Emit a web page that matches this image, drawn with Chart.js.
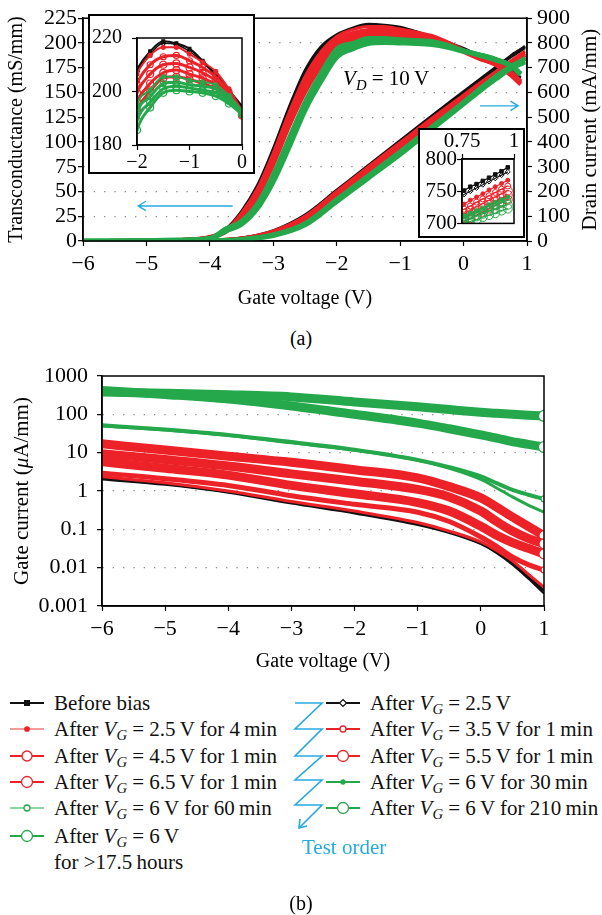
<!DOCTYPE html>
<html lang="en">
<head>
<meta charset="UTF-8">
<title>Transconductance, drain and gate current after gate bias</title>
<script src="https://cdn.jsdelivr.net/npm/chart.js"></script>
<style>
    body { margin: 0; background: #fff; font-family: 'Liberation Serif', 'Times New Roman', serif; }
    #page { position: relative; width: 602px; height: 915px; overflow: hidden; background: #fff; }
    #page canvas { position: absolute; }
    .inset { position: absolute; border: 2px solid #000; background: #fff; }
    .inset canvas { left: 0; top: 0; }
    .cap { position: absolute; left: 0; width: 602px; text-align: center; font-size: 20px; line-height: 24px; }
    .leg { position: absolute; display: flex; align-items: center; height: 26px; font-size: 21px; white-space: nowrap; color: #111; }
    .leg svg { flex: none; }
    .leg span { margin-left: 10px; }
    .leg sub { font-size: 70%; vertical-align: -0.25em; font-style: italic; line-height: 0; }
    #order { position: absolute; left: 0; top: 0; }
    #orderText { position: absolute; left: 302px; top: 835px; font-size: 21px; color: #27aae1; }
</style>
</head>
<body>
<div id="page">
    <canvas id="chartA" width="602" height="320" style="left:0;top:0"></canvas>
    <div class="inset" style="left:88px;top:14px;width:163px;height:156px"><canvas id="inset1" width="163" height="156"></canvas></div>
    <div class="inset" style="left:418px;top:128px;width:103px;height:106px"><canvas id="inset2" width="103" height="106"></canvas></div>
    <div class="cap" style="top:326px">(a)</div>
    <canvas id="chartB" width="602" height="330" style="left:0;top:350px"></canvas>
    <div id="legend"></div>
    <svg id="order" width="602" height="915"></svg>
    <div id="orderText">Test order</div>
    <div class="cap" style="top:891px">(b)</div>
</div>

<script>
    const FONT = "'Liberation Serif', 'Times New Roman', serif";
    const BLACK = '#111', RED = '#ec2228', GREEN = '#25a84b', BLUE = '#27aae1';

    // series, in test order
    const seriesNames = [
        'Before bias',
        'After VG = 2.5 V',
        'After VG = 2.5 V for 4 min',
        'After VG = 3.5 V for 1 min',
        'After VG = 4.5 V for 1 min',
        'After VG = 5.5 V for 1 min',
        'After VG = 6.5 V for 1 min',
        'After VG = 6 V for 30 min',
        'After VG = 6 V for 60 min',
        'After VG = 6 V for 210 min',
        'After VG = 6 V for >17.5 hours'
    ];
    const VG = 'After <i>V</i><sub>G</sub> = ';
    const legendHtml = [
        'Before bias',
        VG + '2.5&#8201;V',
        VG + '2.5&#8201;V for 4&#8201;min',
        VG + '3.5&#8201;V for 1&#8201;min',
        VG + '4.5&#8201;V for 1&#8201;min',
        VG + '5.5&#8201;V for 1&#8201;min',
        VG + '6.5&#8201;V for 1&#8201;min',
        VG + '6&#8201;V for 30&#8201;min',
        VG + '6&#8201;V for 60&#8201;min',
        VG + '6&#8201;V for 210&#8201;min',
        VG + '6&#8201;V<br>for &gt;17.5&#8201;hours'
    ];

    // (a) transconductance, mS/mm
    const vgA = [-6, -5, -4.5, -4, -3.75, -3.5, -3.25, -3, -2.75, -2.5, -2.25, -2, -1.75, -1.5, -1.25, -1, -0.75, -0.5, -0.25, 0, 0.25, 0.5, 0.75, 0.9];
    const gmValues = [
        [0, 0.3, 1, 4, 12, 30, 56, 93, 135, 172, 196, 208.3, 215, 218.8, 218, 216, 211.5, 206.5, 200.5, 194.5, 187, 181, 172, 165],
        [0, 0.3, 1, 4, 11.5, 29, 55, 92, 133, 170, 194.5, 207.5, 214, 218, 217.5, 215, 211, 206, 200, 194, 186.5, 180.5, 171.5, 164.5],
        [0, 0.3, 1, 4, 11, 28, 53, 89, 130, 166, 191, 206.5, 213.5, 216.5, 216.5, 214, 211, 207.5, 201, 193, 186, 180, 171, 162],
        [0, 0.3, 1, 4, 10.5, 27, 51, 86, 127, 162, 187, 203, 210, 213, 213.5, 211.5, 209, 205.5, 200, 192.5, 185.5, 179.5, 170, 161],
        [0, 0.3, 1, 3.5, 10, 25, 48, 83, 123, 158, 183, 199.5, 206.5, 210, 210.5, 209, 207, 204, 199, 192, 185, 179, 169, 160],
        [0, 0.3, 1, 3.5, 9.5, 24, 46, 80, 120, 154, 180, 196, 203, 207, 208, 206.5, 205, 202.5, 198, 191.5, 184.5, 178.5, 168, 159],
        [0, 0.3, 1, 3.5, 9, 22, 44, 77, 116, 150, 176, 193, 200, 205, 205.5, 204.5, 203, 201, 197, 191, 184, 178, 167, 158],
        [0, 0.3, 1, 3, 13, 21, 39, 69, 106, 142, 171, 195, 200.5, 205.5, 205.5, 204.2, 203.5, 202.5, 198.5, 193, 189, 184.5, 178, 170],
        [0, 0.3, 1, 3, 12.5, 20, 37, 66, 102, 138, 167, 192, 198, 203, 203.5, 202.5, 202, 201, 197.5, 192.5, 188.5, 184, 177.5, 169.5],
        [0, 0.3, 1, 2.5, 11, 18.5, 35, 63, 98, 135, 164, 189, 196, 201, 202, 201.3, 200.5, 199.5, 196.5, 192, 188, 183.5, 177, 169],
        [0, 0.3, 1, 2.5, 10, 17, 33, 60, 95, 132, 161, 185.6, 194, 199.5, 200.5, 200, 199.5, 198.3, 195.5, 191.5, 187.5, 183, 176.5, 168]
    ];

    // (a) drain current, mA/mm
    const vgI = [-6, -5, -4.5, -4, -3.5, -3, -2.5, -2, -1.5, -1, -0.5, 0, 0.25, 0.5, 0.76, 0.79, 0.82, 0.85, 0.88, 0.91, 0.94, 0.97];
    const idValues = [
        [0, 0, 0.5, 2, 12, 42, 105, 205, 305, 405, 505, 603, 652, 700, 751, 757, 761, 766, 771, 776, 781, 787],
        [0, 0, 0.5, 2, 11, 40, 102, 202, 302, 401, 500, 598, 647, 695, 745, 750, 755, 760, 765, 770, 775, 780],
        [0, 0, 0.5, 2, 11, 40, 100, 200, 300, 398, 496, 590, 637, 683, 730, 736, 741, 746, 752, 757, 762, 767],
        [0, 0, 0.5, 2, 10, 38, 97, 196, 295, 392, 489, 583, 629, 675, 722, 727, 733, 738, 743, 748, 753, 758],
        [0, 0, 0.5, 1.5, 10, 36, 94, 192, 290, 387, 483, 576, 622, 668, 715, 720, 726, 731, 736, 741, 746, 751],
        [0, 0, 0.5, 1.5, 9, 35, 91, 188, 285, 382, 477, 570, 616, 662, 709, 714, 719, 724, 729, 734, 739, 744],
        [0, 0, 0.5, 1.5, 9, 33, 88, 184, 280, 377, 472, 564, 610, 656, 703, 708, 713, 718, 723, 728, 732, 737],
        [0, 0, 0.3, 1.5, 7, 28, 75, 172, 268, 365, 465, 565, 618, 668, 712, 716, 720, 724, 729, 733, 737, 741],
        [0, 0, 0.3, 1.5, 7, 26, 71, 167, 262, 359, 459, 560, 612, 662, 708, 712, 716, 720, 724, 728, 732, 736],
        [0, 0, 0.3, 1, 6, 24, 68, 163, 258, 354, 455, 557, 608, 657, 704, 707, 711, 715, 719, 722, 726, 729],
        [0, 0, 0.3, 1, 6, 22, 65, 160, 255, 350, 452, 554, 605, 653, 700, 703, 706, 710, 713, 716, 720, 723]
    ];

    // (b) gate current, uA/mm
    const vgB = [-6, -5, -4, -3, -2, -1, -0.5, 0, 0.25, 0.5, 0.75, 1];
    const igValues = [
        [2.2, 1.55, 0.95, 0.5, 0.28, 0.14, 0.085, 0.043, 0.026, 0.013, 0.0058, 0.0025],
        [2.0, 1.45, 0.9, 0.47, 0.26, 0.13, 0.08, 0.041, 0.024, 0.012, 0.0052, 0.0021],
        [2.35, 1.65, 1.0, 0.53, 0.3, 0.15, 0.09, 0.047, 0.028, 0.015, 0.0068, 0.0031],
        [2.9, 2.1, 1.4, 0.75, 0.45, 0.28, 0.16, 0.063, 0.036, 0.019, 0.012, 0.0087],
        [5.8, 3.9, 2.6, 1.4, 0.85, 0.5, 0.3, 0.12, 0.07, 0.045, 0.032, 0.023],
        [9.4, 6.6, 4.5, 2.8, 1.8, 1.1, 0.7, 0.3, 0.16, 0.09, 0.058, 0.042],
        [17, 11.7, 8.1, 5.6, 3.6, 2.2, 1.3, 0.66, 0.38, 0.21, 0.12, 0.068],
        [50, 39, 28, 18, 11.5, 6.2, 3.9, 2.0, 1.2, 0.7, 0.43, 0.28],
        [52, 40, 29, 19, 12, 6.5, 4.2, 2.4, 1.6, 1.07, 0.8, 0.62],
        [420, 330, 250, 165, 100, 59, 42, 29, 24, 19.5, 16.5, 14],
        [380, 355, 325, 285, 210, 157, 133, 113, 106, 100, 95, 91]
    ];

    const gateTicks = [0.001, 0.01, 0.1, 1, 10, 100, 1000];
    const gateTickLabels = ['0.001', '0.01', '0.1', '1', '10', '100', '1000'];

    // styles per series
    const seriesColor = [BLACK, BLACK, RED, RED, RED, RED, RED, GREEN, GREEN, GREEN, GREEN];
    const legendLineColor = [BLACK, BLACK, '#f59a9a', RED, RED, RED, RED, GREEN, '#8fd4a5', GREEN, GREEN];
    const markerShape = ['rect', 'rectRot', 'circle', 'circle', 'circle', 'circle', 'circle', 'circle', 'circle', 'circle', 'circle'];
    const markerFilled = [true, false, true, false, false, false, false, true, false, false, false];
    const legendMarkerR = [3, 3.5, 2.2, 3, 5, 5.5, 5.5, 2, 3, 5.5, 5.5];
    const widthA = [3, 2.5, 3, 4, 4, 4, 4, 3, 4, 4, 5];
    const widthB = [2.5, 2, 3, 5, 9, 9, 9, 3, 4, 9, 9];
    const endRadiusB = [0, 0, 0, 3, 5, 5, 5, 0, 3, 5.5, 5.5];
    const inset1R = [2, 2.5, 2, 3, 3.5, 3.5, 3.5, 2, 3, 3.5, 3.5];
    const inset1W = [2, 1.5, 2, 3, 3, 3, 3, 2, 3, 3, 3];
    const inset2R = [2.5, 2.5, 2, 3, 4.5, 4.5, 4.5, 2, 3, 4.5, 4.5];
    const drawOrder = [3, 3, 2, 2, 2, 2, 2, 1, 1, 1, 1];

    // annotations in data units
    const vdLabelAt = [-1.9, 163];
    const gmArrow = [-3.64, -5.13, 35.4];
    const idArrow = [0.26, 0.86, 546];

    const fmtV = v => (v < 0 ? '\u2212' + (-v) : String(v));
    const tickFont = size => ({ family: FONT, size: size });
    const pts = (xs, ys) => xs.map((x, k) => ({ x: x, y: ys[k] }));

    function drawRich(ctx, parts, x, y, rot, size, align) {
        ctx.save();
        ctx.translate(x, y);
        ctx.rotate(rot);
        const fontFor = p => (p.i ? 'italic ' : '') + (p.sub ? size * 0.7 : size) + 'px ' + FONT;
        let w = 0;
        parts.forEach(p => { ctx.font = fontFor(p); w += ctx.measureText(p.t).width; });
        let cx = align === 'left' ? 0 : -w / 2;
        ctx.textBaseline = 'middle';
        ctx.fillStyle = '#000';
        parts.forEach(p => {
            ctx.font = fontFor(p);
            ctx.fillText(p.t, cx, p.sub ? size * 0.3 : 0);
            cx += ctx.measureText(p.t).width;
        });
        ctx.restore();
    }

    function arrow(ctx, x1, y1, x2, y2) {
        const a = Math.atan2(y2 - y1, x2 - x1), h = 9;
        ctx.save();
        ctx.strokeStyle = BLUE;
        ctx.lineWidth = 1.4;
        ctx.beginPath();
        ctx.moveTo(x1, y1); ctx.lineTo(x2, y2);
        ctx.moveTo(x2 - h * Math.cos(a - 0.55), y2 - h * Math.sin(a - 0.55));
        ctx.lineTo(x2, y2);
        ctx.lineTo(x2 - h * Math.cos(a + 0.55), y2 - h * Math.sin(a + 0.55));
        ctx.stroke();
        ctx.restore();
    }

    const framePlugin = {
        id: 'frame',
        afterDraw(chart) {
            const { ctx, chartArea: a } = chart;
            ctx.save();
            ctx.strokeStyle = '#000';
            ctx.lineWidth = 1.5;
            ctx.strokeRect(a.left, a.top, a.right - a.left, a.bottom - a.top);
            ctx.restore();
        }
    };

    const notesA = {
        id: 'notesA',
        afterDraw(chart) {
            const { ctx, scales, chartArea } = chart;
            drawRich(ctx, [{ t: 'V', i: true }, { t: 'D', i: true, sub: true }, { t: ' = 10\u2009V' }],
                scales.x.getPixelForValue(vdLabelAt[0]), scales.yL.getPixelForValue(vdLabelAt[1]), 0, 21, 'left');
            arrow(ctx, scales.x.getPixelForValue(gmArrow[0]), scales.yL.getPixelForValue(gmArrow[2]),
                scales.x.getPixelForValue(gmArrow[1]), scales.yL.getPixelForValue(gmArrow[2]));
            arrow(ctx, scales.x.getPixelForValue(idArrow[0]), scales.yR.getPixelForValue(idArrow[2]),
                scales.x.getPixelForValue(idArrow[1]), scales.yR.getPixelForValue(idArrow[2]));
            drawRich(ctx, [{ t: 'Drain current (mA/mm)' }], 590, (chartArea.top + chartArea.bottom) / 2, -Math.PI / 2, 21);
        }
    };

    const notesB = {
        id: 'notesB',
        afterDraw(chart) {
            const a = chart.chartArea;
            drawRich(chart.ctx, [{ t: 'Gate current (' }, { t: 'μ', i: true }, { t: 'A/mm)' }], 22, (a.top + a.bottom) / 2, -Math.PI / 2, 21);
        }
    };

    const dotted = lims => ({
        color: c => (c.tick && lims.includes(c.tick.value)) ? 'rgba(0,0,0,0)' : '#8c8c8c',
        lineWidth: 1.3, tickLength: 5, tickColor: '#000', tickWidth: 1.2
    });
    const plainGrid = { drawOnChartArea: false, tickLength: 5, tickColor: '#000', tickWidth: 1.2 };
    const solidBorder = { color: '#000', width: 1.5 };
    const baseOpts = {
        responsive: false, animation: false,
        plugins: { legend: { display: false }, tooltip: { enabled: false } },
        elements: { line: { cubicInterpolationMode: 'monotone' } }
    };

    // ---- (a) main chart
    const dsA = [];
    seriesNames.forEach((name, i) => {
        dsA.push({ label: name, data: pts(vgA, gmValues[i]), yAxisID: 'yL', borderColor: seriesColor[i],
            borderWidth: widthA[i], pointRadius: 0, order: drawOrder[i] });
        dsA.push({ label: name, data: pts(vgI, idValues[i]), yAxisID: 'yR', borderColor: seriesColor[i],
            borderWidth: widthA[i], pointRadius: 0, order: drawOrder[i] });
    });

    new Chart(document.getElementById('chartA'), {
        type: 'line',
        data: { datasets: dsA },
        plugins: [framePlugin, notesA],
        options: Object.assign({}, baseOpts, {
            layout: { padding: { top: 12 } },
            scales: {
                x: {
                    type: 'linear', min: -6, max: 1,
                    ticks: { stepSize: 1, font: tickFont(22), color: '#000', padding: 5, callback: fmtV },
                    grid: plainGrid, border: solidBorder,
                    title: { display: true, text: 'Gate voltage (V)', font: tickFont(20), color: '#000', padding: { top: 0, bottom: 9 } },
                    afterFit: s => { s.height = 79; }
                },
                yL: {
                    position: 'left', min: 0, max: 225,
                    ticks: { stepSize: 25, autoSkip: false, font: tickFont(22), color: '#000', padding: 1 },
                    grid: dotted([0, 225]),
                    border: { color: '#000', width: 1.5, dash: [1.3, 9] },
                    title: { display: true, text: 'Transconductance (mS/mm)', font: tickFont(20), color: '#000', padding: { top: 5, bottom: 0 } },
                    afterFit: s => { s.width = 83; }
                },
                yR: {
                    position: 'right', min: 0, max: 900,
                    ticks: { stepSize: 100, autoSkip: false, font: tickFont(22), color: '#000', padding: 5 },
                    grid: plainGrid, border: solidBorder,
                    afterFit: s => { s.width = 75; }
                }
            }
        })
    });

    // ---- inset 1: transconductance peak
    new Chart(document.getElementById('inset1'), {
        type: 'line',
        data: {
            datasets: seriesNames.map((name, i) => ({
                label: name, data: pts(vgA, gmValues[i]), borderColor: seriesColor[i], borderWidth: inset1W[i],
                pointStyle: markerShape[i], pointRadius: inset1R[i], pointBorderWidth: 1.2,
                pointBackgroundColor: markerFilled[i] ? seriesColor[i] : 'rgba(0,0,0,0)',
                order: drawOrder[i], clip: 0
            }))
        },
        plugins: [framePlugin],
        options: Object.assign({}, baseOpts, {
            layout: { padding: { top: 9, right: 11 } },
            scales: {
                x: {
                    type: 'linear', min: -2, max: 0,
                    ticks: { stepSize: 1, font: tickFont(20), color: '#000', padding: 1, callback: fmtV },
                    grid: plainGrid, border: solidBorder,
                    afterFit: s => { s.height = 27; }
                },
                y: {
                    min: 180, max: 220,
                    afterBuildTicks: s => { s.ticks = [180, 200, 220].map(v => ({ value: v })); },
                    ticks: { font: tickFont(20), color: '#000', padding: 10 },
                    grid: plainGrid, border: solidBorder,
                    afterFit: s => { s.width = 47; }
                }
            }
        })
    });

    // ---- inset 2: drain current near VG = 1 V
    new Chart(document.getElementById('inset2'), {
        type: 'line',
        data: {
            datasets: seriesNames.map((name, i) => ({
                label: name, data: pts(vgI, idValues[i]), borderColor: seriesColor[i], borderWidth: 1.2,
                pointStyle: markerShape[i], pointRadius: inset2R[i], pointBorderWidth: 1,
                pointBackgroundColor: markerFilled[i] ? seriesColor[i] : 'rgba(0,0,0,0)',
                order: drawOrder[i], clip: 0, cubicInterpolationMode: 'default', tension: 0
            }))
        },
        plugins: [framePlugin],
        options: Object.assign({}, baseOpts, {
            layout: { padding: { right: 9, bottom: 8 } },
            scales: {
                x: {
                    type: 'linear', position: 'top', min: 0.75, max: 1,
                    afterBuildTicks: s => { s.ticks = [0.75, 1].map(v => ({ value: v })); },
                    ticks: { font: tickFont(21), color: '#000', padding: 0, callback: v => String(v) },
                    grid: plainGrid, border: solidBorder,
                    afterFit: s => { s.height = 29; }
                },
                y: {
                    min: 700, max: 800,
                    afterBuildTicks: s => { s.ticks = [700, 750, 800].map(v => ({ value: v })); },
                    ticks: { font: tickFont(21), color: '#000', padding: 0, callback: v => String(v) },
                    grid: plainGrid, border: solidBorder,
                    afterFit: s => { s.width = 42; }
                }
            }
        })
    });

    // ---- (b) gate current
    new Chart(document.getElementById('chartB'), {
        type: 'line',
        data: {
            datasets: seriesNames.map((name, i) => ({
                label: name, data: pts(vgB, igValues[i]), borderColor: seriesColor[i], borderWidth: widthB[i],
                pointStyle: 'circle', pointBorderWidth: 1.2, pointBackgroundColor: '#fff', pointBorderColor: seriesColor[i],
                pointRadius: c => (c.dataIndex === vgB.length - 1 ? endRadiusB[i] : 0),
                order: drawOrder[i]
            }))
        },
        plugins: [framePlugin, notesB],
        options: Object.assign({}, baseOpts, {
            layout: { padding: { top: 26, right: 58 } },
            scales: {
                x: {
                    type: 'linear', min: -6, max: 1,
                    ticks: { stepSize: 1, font: tickFont(22), color: '#000', padding: 5, callback: fmtV },
                    grid: plainGrid, border: solidBorder,
                    title: { display: true, text: 'Gate voltage (V)', font: tickFont(20), color: '#000', padding: { top: 0, bottom: 6 } },
                    afterFit: s => { s.height = 74; }
                },
                y: {
                    type: 'logarithmic', min: 0.001, max: 1000,
                    afterBuildTicks: s => { s.ticks = gateTicks.map(v => ({ value: v })); },
                    ticks: { autoSkip: false, font: tickFont(22), color: '#000', padding: 9,
                        callback: v => gateTickLabels[gateTicks.indexOf(v)] },
                    grid: dotted([0.001, 1000]),
                    border: { color: '#000', width: 1.5, dash: [1.3, 9] },
                    afterFit: s => { s.width = 102; }
                }
            }
        })
    });

    // ---- legend
    const legendLeft = [0, 2, 4, 6, 8, 10];
    const legendRight = [1, 3, 5, 7, 9];
    const legendRowY = [703, 729, 756, 782, 808, 836];

    function symbolSvg(i) {
        const c = seriesColor[i], r = legendMarkerR[i], fill = markerFilled[i] ? c : '#fff';
        let mk;
        if (markerShape[i] === 'rect') {
            mk = `<rect x="${17 - r}" y="${8 - r}" width="${2 * r}" height="${2 * r}" fill="${fill}"/>`;
        } else if (markerShape[i] === 'rectRot') {
            mk = `<polygon points="17,${8 - r} ${17 + r},8 17,${8 + r} ${17 - r},8" fill="${fill}" stroke="${c}" stroke-width="1.2"/>`;
        } else {
            mk = `<circle cx="17" cy="8" r="${r}" fill="${fill}" stroke="${c}" stroke-width="1.3"/>`;
        }
        return `<svg width="34" height="16"><line x1="0" y1="8" x2="34" y2="8" stroke="${legendLineColor[i]}" stroke-width="2"/>${mk}</svg>`;
    }

    const legend = document.getElementById('legend');
    function addColumn(list, left) {
        list.forEach((i, row) => {
            const d = document.createElement('div');
            d.className = 'leg';
            d.style.left = left + 'px';
            d.style.top = (legendRowY[row] - 13) + 'px';
            if (legendHtml[i].includes('<br>')) {
                d.style.alignItems = 'flex-start';
                d.style.height = 'auto';
                d.style.lineHeight = '26px';
                d.innerHTML = symbolSvg(i).replace('<svg ', '<svg style="margin-top:5px" ') + '<span>' + legendHtml[i] + '</span>';
            } else {
                d.innerHTML = symbolSvg(i) + '<span>' + legendHtml[i] + '</span>';
            }
            legend.appendChild(d);
        });
    }
    addColumn(legendLeft, 10);
    addColumn(legendRight, 326);

    // test order zigzag
    const zig = [[295, 703], [322, 703], [295, 729], [322, 729], [295, 756], [322, 756], [295, 780], [322, 780], [295, 805], [322, 805], [299, 828]];
    document.getElementById('order').innerHTML =
        `<polyline points="${zig.map(p => p.join(',')).join(' ')}" fill="none" stroke="${BLUE}" stroke-width="1.6"/>` +
        `<polyline points="300,819 299,828 307,826" fill="none" stroke="${BLUE}" stroke-width="1.6"/>`;
</script>
</body>
</html>
